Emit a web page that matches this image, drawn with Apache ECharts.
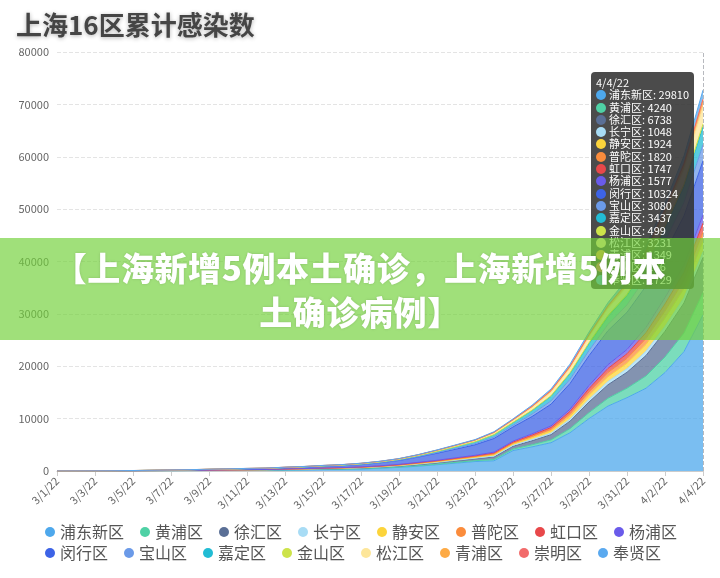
<!DOCTYPE html>
<html>
<head>
<meta charset="utf-8">
<script src="https://cdn.jsdelivr.net/npm/echarts/dist/echarts.min.js"></script>
<style>
  body { margin: 0; background: #fff; }
  #wrap { position: relative; width: 720px; height: 578px; }
  #chart { width: 720px; height: 578px; }
  #banner {
    position: absolute; left: 0; top: 238px; width: 720px; height: 102px;
    background: rgba(113, 209, 57, 0.67);
    z-index: 99999999;
    color: #fff; text-align: center;
    font-family: "Noto Sans CJK SC", sans-serif; font-weight: 900;
    font-size: 33px; line-height: 44px; letter-spacing: 0.6px;
    padding-top: 7px; box-sizing: border-box;
    text-shadow: 0 0 3px rgba(0,0,0,0.15);
  }
</style>
</head>
<body>
<div id="wrap">
  <div id="chart"></div>
  <div id="banner">【上海新增5例本土确诊，上海新增5例本<br>土确诊病例】</div>
</div>
<script>
const dates = ['3/1/22','3/2/22','3/3/22','3/4/22','3/5/22','3/6/22','3/7/22','3/8/22','3/9/22','3/10/22',
  '3/11/22','3/12/22','3/13/22','3/14/22','3/15/22','3/16/22','3/17/22','3/18/22','3/19/22','3/20/22',
  '3/21/22','3/22/22','3/23/22','3/24/22','3/25/22','3/26/22','3/27/22','3/28/22','3/29/22','3/30/22',
  '3/31/22','4/1/22','4/2/22','4/3/22','4/4/22'];

// 各区累计（读图估计，4/4 取自提示框）
const pudong = [1,3,7,11,23,35,49,65,85,104,125,141,183,218,268,308,373,520,690,910,1200,1500,1800,1950,3900,4600,5400,7300,10000,12400,14000,15800,18800,22800,29810];
const huangpu = [0,0,1,2,4,6,8,10,13,16,20,22,29,34,42,48,59,66,81,103,119,144,168,243,277,402,534,783,1140,1485,1794,2343,2974,3548,4240];
const xuhui = [0,1,2,4,8,12,16,21,28,34,41,46,59,71,87,100,121,136,167,213,247,299,348,487,542,765,995,1422,2029,2583,3054,3909,4905,5742,6738];
const changning = [0,1,1,1,3,4,6,8,11,13,15,17,23,27,33,38,46,52,63,81,94,113,132,173,182,240,294,392,523,616,672,800,915,990,1048];
const jingan = [0,1,1,2,4,6,8,10,13,16,20,22,29,34,42,48,59,66,81,103,119,144,168,226,239,325,406,558,762,924,1049,1288,1544,1716,1924];
const putuo = [0,0,1,2,3,4,6,8,11,13,15,17,23,27,33,38,46,52,63,81,94,113,132,180,194,265,336,468,649,798,920,1148,1401,1584,1820];
const hongkou = [0,0,1,1,2,4,6,8,10,13,15,17,22,27,33,38,46,52,63,81,94,113,132,178,193,262,333,459,636,782,892,1114,1344,1535,1747];
const yangpu = [0,0,0,1,2,4,5,7,10,12,14,16,20,24,30,35,42,47,58,73,85,103,120,163,175,240,301,419,580,711,819,1009,1230,1386,1577];
const minhang = [1,3,7,13,26,39,55,73,95,116,140,158,205,244,301,345,418,560,740,1000,1330,1650,2000,2600,2700,3300,4150,4900,5700,6500,7100,7900,8600,9400,10324];
const baoshan = [0,0,1,2,4,6,8,10,14,17,20,22,29,35,43,49,59,66,78,102,136,174,209,274,330,462,627,805,986,1179,1408,1711,2127,2597,3080];
const jiading = [0,1,2,3,6,9,12,16,21,25,30,34,44,52,64,74,89,100,117,154,205,262,314,405,474,647,858,1076,1285,1500,1748,2066,2504,2979,3437];
const jinshan = [0,0,0,0,1,1,2,3,3,4,5,6,7,9,11,12,15,17,20,26,34,44,53,67,78,105,139,171,203,235,269,314,375,437,499];
const songjiang = [0,0,1,2,4,6,8,10,14,17,20,22,29,35,43,49,59,66,78,102,136,174,209,276,333,467,637,822,1011,1216,1457,1773,2213,2711,3231];
const qingpu = [0,0,1,1,2,3,4,5,7,8,10,11,15,17,21,25,30,33,39,51,68,87,104,136,162,223,300,380,461,546,646,776,953,1148,1349];
const chongming = [0,0,0,0,0,1,1,1,2,2,2,3,4,4,5,6,7,8,10,13,17,22,26,32,37,49,61,74,86,96,107,120,135,150,166];
const fengxian = [0,0,0,0,1,2,3,4,5,6,7,8,11,13,16,18,22,25,29,39,51,66,78,108,135,197,277,367,466,578,713,890,1136,1424,1729];

const names = ['浦东新区','黄浦区','徐汇区','长宁区','静安区','普陀区','虹口区','杨浦区',
  '闵行区','宝山区','嘉定区','金山区','松江区','青浦区','崇明区','奉贤区'];
const dataList = [pudong, huangpu, xuhui, changning, jingan, putuo, hongkou, yangpu,
  minhang, baoshan, jiading, jinshan, songjiang, qingpu, chongming, fengxian];
const colors = ['#4ea8ec','#4fd1a5','#5a6f96','#a8dcf5','#fcd43b','#fb8c3c','#e8484a','#6a5bea',
  '#3d63e6','#6b9ae8','#22bcd4','#cde34a','#fde69a','#fdaa45','#f26b6b','#5aa9ef'];

const chart = echarts.init(document.getElementById('chart'));

const series = names.map((n, i) => ({
  name: n,
  type: 'line',
  stack: 'total',
  data: dataList[i],
  symbol: 'none',
  lineStyle: { width: 1 },
  areaStyle: { opacity: 0.75 },
  emphasis: { disabled: true }
}));

const legendBase = {
  left: 40,
  icon: 'circle',
  itemWidth: 10,
  itemHeight: 10,
  itemGap: 16,
  textStyle: { fontSize: 16, color: '#555' }
};

chart.setOption({
  animation: false,
  color: colors,
  textStyle: { fontFamily: '"Noto Sans CJK SC", sans-serif' },
  title: {
    text: '上海16区累计感染数',
    left: 11,
    top: 7,
    textStyle: {
      fontSize: 26,
      fontWeight: 'bold',
      color: '#454545',
      textShadowColor: 'rgba(0,0,0,0.3)',
      textShadowBlur: 4,
      textShadowOffsetY: 1
    }
  },
  tooltip: {
    trigger: 'axis',
    alwaysShowContent: true,
    transitionDuration: 0,
    position: [591, 72],
    backgroundColor: 'rgba(50,50,50,0.88)',
    borderWidth: 0,
    padding: [4, 5],
    extraCssText: 'border-radius:4px;box-shadow:none;',
    formatter: function (params) {
      let s = '<div style="font-size:11px;line-height:12.3px;color:#fff;">' + params[0].axisValue;
      params.forEach(p => {
        s += '<br/><span style="display:inline-block;width:10px;height:10px;border-radius:5px;margin-right:3px;vertical-align:-1px;background:' +
          p.color + '"></span>' + p.seriesName + ': ' + p.value;
      });
      return s + '</div>';
    }
  },
  legend: [
    Object.assign({ data: names.slice(0, 8), top: 519 }, legendBase),
    Object.assign({ data: names.slice(8), top: 540 }, legendBase)
  ],
  grid: { left: 57, right: 17, top: 52, bottom: 107 },
  xAxis: {
    type: 'category',
    boundaryGap: false,
    data: dates,
    axisLine: { lineStyle: { color: '#ccc' } },
    axisTick: { interval: 1, lineStyle: { color: '#ccc' } },
    axisLabel: { interval: 1, rotate: 45, fontSize: 11, color: '#666' }
  },
  yAxis: {
    type: 'value',
    min: 0,
    max: 80000,
    interval: 10000,
    axisLabel: { fontSize: 11, color: '#666', formatter: v => String(v) },
    splitLine: { lineStyle: { type: 'dashed', color: '#e4e4e4' } }
  },
  series: series
});

chart.dispatchAction({ type: 'showTip', seriesIndex: 0, dataIndex: 34 });
</script>
</body>
</html>
